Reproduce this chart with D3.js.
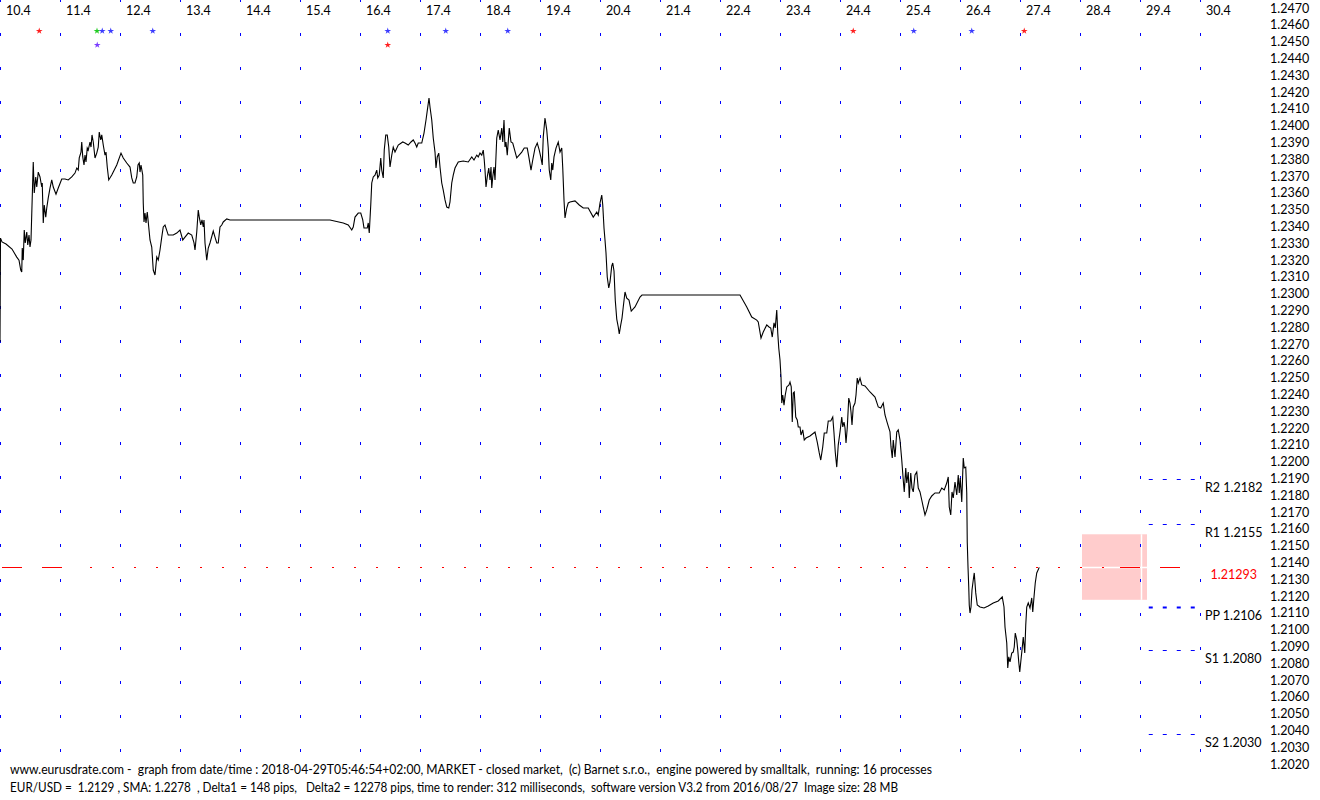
<!DOCTYPE html>
<html><head><meta charset="utf-8">
<script src="https://cdn.jsdelivr.net/npm/d3@7"></script>
<style>
body{margin:0;background:#fff;}
svg{display:block;font-family:Lato,"Liberation Sans",sans-serif;}
text{white-space:pre;}
</style>
</head><body>
<svg id="chart" width="1320" height="800"></svg>
<script>
// ---------- DATA ----------
// hours since 2018-04-10 00:00 and EUR/USD price
const hours = [0,0.2,0.8,2.4,4.8,6.7,7.6,8.3,8.7,8.9,9.3,9.7,10.1,10.7,11.1,11.6,12.0,12.4,12.9,13.3,13.7,14.3,14.7,15.3,16.0,16.7,16.9,17.3,17.7,18.3,18.7,19.3,20.0,20.7,21.3,22.4,23.3,24.7,26.0,27.3,28.7,30.0,30.7,31.3,31.7,32.4,32.7,33.1,33.6,34.0,34.4,34.9,35.3,36.0,36.4,36.8,37.3,38.0,38.7,39.3,39.7,40.3,40.7,41.3,42.0,42.4,42.9,43.5,44.7,46.7,48.4,49.3,50.7,52.0,52.7,53.3,54.0,54.7,55.2,55.7,56.0,56.4,57.1,57.3,57.6,58.0,58.4,58.9,59.3,60.0,60.7,61.3,62.0,62.7,63.3,64.0,64.7,65.3,66.0,67.3,69.3,70.7,72.0,73.1,74.0,75.3,76.7,77.6,78.0,78.7,79.3,79.7,80.3,80.8,81.3,81.6,82.0,82.7,83.3,84.0,85.3,86.0,86.7,87.3,88.0,88.7,89.3,90.7,92.0,132.0,137.3,139.3,140.7,141.3,142.0,143.3,144.3,145.1,145.6,146.9,147.3,147.7,148.3,148.7,149.3,150.0,150.7,151.1,151.7,152.3,152.7,153.3,153.7,154.3,154.9,155.5,156.0,156.7,157.3,158.0,159.3,161.1,162.0,163.3,164.4,165.3,166.0,166.7,167.3,168.7,169.6,170.4,171.1,171.6,172.0,172.7,173.3,174.0,174.4,174.9,175.5,176.0,176.7,177.3,178.0,178.7,179.5,180.0,180.7,181.3,182.0,183.3,185.3,187.3,188.7,189.6,190.7,191.3,192.0,192.7,193.3,193.7,194.0,194.4,194.9,195.5,196.0,196.4,196.7,197.1,197.6,198.0,198.7,199.3,200.0,200.7,201.1,201.6,202.0,202.4,202.9,203.7,204.4,205.1,206.7,208.7,209.7,210.9,211.6,212.4,213.1,214.0,214.9,215.7,216.3,216.9,217.3,218.0,218.7,219.3,219.7,220.3,220.7,221.1,221.6,222.4,223.3,224.0,224.7,225.1,225.6,226.0,226.7,227.3,228.0,230.0,231.7,233.3,235.3,237.3,238.7,239.3,240.0,240.7,241.1,241.6,242.0,242.4,242.9,243.5,244.0,244.7,245.1,245.6,246.1,246.7,247.3,247.7,248.3,248.8,249.3,250.0,250.7,251.6,252.5,254.0,256.0,256.8,296.0,298.7,300.7,302.7,303.3,304.4,305.3,306.7,307.6,308.3,308.9,309.6,310.1,310.7,311.1,311.5,312.0,312.4,312.7,313.1,313.6,314.1,314.7,315.6,316.0,316.5,316.9,317.3,317.7,318.3,318.9,319.3,320.0,320.4,321.1,321.7,322.4,324.0,326.0,326.9,327.7,328.3,329.1,329.7,330.7,331.3,332.3,333.1,333.6,334.1,334.7,335.3,336.0,336.7,337.1,337.6,338.0,338.4,338.9,339.5,340.0,340.4,340.8,341.3,342.0,342.4,342.9,343.3,344.0,344.7,346.0,348.0,350.0,351.3,352.3,353.3,354.0,354.7,355.3,356.0,356.4,356.9,357.3,358.0,358.7,359.3,360.0,360.7,361.3,361.7,362.3,362.7,363.3,363.7,364.3,364.8,365.3,366.0,366.7,367.3,368.0,368.7,369.3,370.0,370.7,371.7,372.7,374.0,375.7,376.7,377.7,378.7,379.3,379.7,380.3,380.8,381.3,382.0,382.7,383.3,383.7,384.1,384.7,385.3,385.7,386.3,386.7,386.9,387.2,387.5,387.7,388.0,388.4,388.8,389.3,389.7,390.3,390.9,392.0,393.6,395.3,397.3,399.3,400.9,401.6,402.0,402.7,403.1,403.5,404.0,404.7,405.3,405.7,406.1,406.7,407.1,407.5,407.9,408.3,408.8,409.3,409.9,410.3,410.7,411.3,412.0,412.7,413.1,413.6,414.1,414.7,415.7];
const prices = [1.22634,1.23253,1.23230,1.23218,1.23188,1.23140,1.23122,1.23063,1.23051,1.23194,1.23122,1.23301,1.23224,1.23289,1.23212,1.23271,1.23200,1.23242,1.23498,1.23706,1.23521,1.23617,1.23557,1.23646,1.23617,1.23557,1.23581,1.23343,1.23450,1.23378,1.23432,1.23492,1.23551,1.23599,1.23557,1.23515,1.23551,1.23605,1.23605,1.23599,1.23617,1.23640,1.23670,1.23658,1.23730,1.23765,1.23825,1.23736,1.23688,1.23747,1.23706,1.23789,1.23777,1.23825,1.23795,1.23867,1.23825,1.23730,1.23759,1.23795,1.23884,1.23837,1.23867,1.23807,1.23747,1.23765,1.23676,1.23599,1.23628,1.23688,1.23759,1.23730,1.23700,1.23676,1.23611,1.23581,1.23581,1.23617,1.23688,1.23700,1.23646,1.23688,1.23628,1.23462,1.23349,1.23402,1.23343,1.23408,1.23349,1.23242,1.23200,1.23063,1.23033,1.23140,1.23122,1.23182,1.23259,1.23319,1.23331,1.23271,1.23271,1.23283,1.23301,1.23242,1.23259,1.23283,1.23271,1.23224,1.23182,1.23289,1.23420,1.23378,1.23331,1.23361,1.23319,1.23361,1.23224,1.23122,1.23194,1.23224,1.23295,1.23259,1.23224,1.23224,1.23319,1.23331,1.23349,1.23367,1.23361,1.23361,1.23343,1.23331,1.23301,1.23319,1.23378,1.23402,1.23402,1.23361,1.23313,1.23313,1.23343,1.23283,1.23450,1.23581,1.23617,1.23628,1.23658,1.23611,1.23628,1.23730,1.23658,1.23611,1.23777,1.23867,1.23867,1.23795,1.23676,1.23747,1.23795,1.23765,1.23807,1.23825,1.23819,1.23807,1.23825,1.23837,1.23819,1.23795,1.23819,1.23819,1.23878,1.23956,1.24033,1.24087,1.24033,1.23956,1.23849,1.23765,1.23670,1.23736,1.23759,1.23676,1.23581,1.23539,1.23480,1.23438,1.23432,1.23468,1.23581,1.23628,1.23670,1.23706,1.23712,1.23706,1.23736,1.23718,1.23747,1.23736,1.23759,1.23747,1.23777,1.23718,1.23658,1.23557,1.23617,1.23670,1.23599,1.23676,1.23551,1.23617,1.23676,1.23599,1.23849,1.23896,1.23837,1.23908,1.23825,1.23956,1.23795,1.23825,1.23747,1.23908,1.23825,1.23819,1.23730,1.23765,1.23789,1.23789,1.23730,1.23658,1.23718,1.23789,1.23819,1.23777,1.23736,1.23688,1.23855,1.23968,1.23896,1.23789,1.23658,1.23599,1.23700,1.23658,1.23736,1.23789,1.23825,1.23765,1.23789,1.23670,1.23480,1.23373,1.23432,1.23462,1.23468,1.23474,1.23450,1.23432,1.23432,1.23378,1.23408,1.23390,1.23462,1.23509,1.23450,1.23313,1.23242,1.23164,1.23021,1.22956,1.22992,1.23087,1.23105,1.23057,1.22884,1.22771,1.22724,1.22682,1.22736,1.22777,1.22843,1.22932,1.22896,1.22884,1.22819,1.22843,1.22902,1.22914,1.22914,1.22843,1.22783,1.22765,1.22754,1.22658,1.22694,1.22736,1.22724,1.22718,1.22664,1.22748,1.22718,1.22825,1.22688,1.22599,1.22527,1.22426,1.22271,1.22319,1.22259,1.22319,1.22367,1.22379,1.22396,1.22367,1.22158,1.22331,1.22337,1.22188,1.22170,1.22129,1.22129,1.22081,1.22111,1.22051,1.22063,1.22075,1.22099,1.22039,1.21974,1.21932,1.22010,1.22093,1.22093,1.22164,1.22164,1.22188,1.22093,1.21980,1.21890,1.22021,1.22099,1.22188,1.22129,1.22158,1.22123,1.22033,1.22123,1.22301,1.22271,1.22218,1.22140,1.22248,1.22271,1.22319,1.22420,1.22390,1.22420,1.22379,1.22373,1.22337,1.22307,1.22248,1.22242,1.22271,1.22200,1.22164,1.22134,1.22099,1.22010,1.21944,1.22051,1.21950,1.22099,1.22111,1.22051,1.21932,1.21813,1.21742,1.21885,1.21795,1.21861,1.21706,1.21855,1.21765,1.21742,1.21843,1.21861,1.21765,1.21742,1.21694,1.21652,1.21605,1.21635,1.21694,1.21718,1.21736,1.21736,1.21765,1.21754,1.21795,1.21831,1.21652,1.21605,1.21742,1.21706,1.21801,1.21724,1.21843,1.21736,1.21825,1.21682,1.21944,1.21885,1.21890,1.21736,1.21444,1.21295,1.21176,1.21069,1.21021,1.21057,1.21158,1.21218,1.21260,1.21141,1.21069,1.21057,1.21051,1.21063,1.21081,1.21093,1.21117,1.21057,1.20938,1.20843,1.20694,1.20760,1.20730,1.20783,1.20789,1.20819,1.20902,1.20861,1.20801,1.20730,1.20670,1.20730,1.20801,1.20879,1.20783,1.20950,1.21057,1.21081,1.21051,1.21111,1.21027,1.21117,1.21200,1.21260,1.21293];

const dayLabels = ["10.4","11.4","12.4","13.4","14.4","15.4","16.4","17.4","18.4","19.4","20.4","21.4","22.4","23.4","24.4","25.4","26.4","27.4","28.4","29.4","30.4"];
const priceTicks = d3.range(12020, 12471, 10).map(v => v / 10000);

const pivotNames  = ["R2","R1","PP","S1","S2"];
const pivotValues = [1.2182, 1.2155, 1.2106, 1.2080, 1.2030];

const currentPrice = 1.21293;
const rangeHigh = 1.2149, rangeLow = 1.2110;   // pink expected range box
const rangeStartHour = 432.8, rangeEndHour = 458.8, nowHour = 456.4;

const eventHours = [15.7, 38.8, 40.9, 44.3, 61.1, 155.1, 178.3, 203.1, 341.3, 365.5, 388.7, 409.7, 38.9, 155.1];
const eventRow   = [1,1,1,1,1,1,1,1,1,1,1,1,2,2];
const eventColor = ["#ff2020","#22cc22","#3c3cff","#3c3cff","#3c3cff","#3c3cff","#3c3cff","#3c3cff","#ff2020","#3c3cff","#3c3cff","#ff2020","#7a3cff","#ff2020"];

const footer1 = "www.eurusdrate.com -  graph from date/time : 2018-04-29T05:46:54+02:00, MARKET - closed market,  (c) Barnet s.r.o.,  engine powered by smalltalk,  running: 16 processes";
const footer2 = "EUR/USD =  1.2129 , SMA: 1.2278  , Delta1 = 148 pips,   Delta2 = 12278 pips, time to render: 312 milliseconds,  software version V3.2 from 2016/08/27  Image size: 28 MB";

// ---------- SCALES ----------
const t0 = Date.UTC(2018,3,10);
const toDate = h => new Date(t0 + h*3600e3);
const x = d3.scaleUtc().domain([new Date(t0), new Date(Date.UTC(2018,3,30))]).range([0, 1200]);
const y = d3.scaleLinear().domain([1.2020, 1.2470]).range([751, -5]);
const gridRows = d3.scaleLinear().domain([0, 22]).range([0, 750]);

const svg = d3.select("#chart");
svg.append("rect").attr("width",1320).attr("height",800).attr("fill","#fff");

const dayTicks = d3.utcDay.range(new Date(t0), new Date(Date.UTC(2018,3,31)));

// pink expected range
const bx0 = x(toDate(rangeStartHour)), bx1 = x(toDate(rangeEndHour));
svg.append("rect").attr("x", bx0).attr("y", y(rangeHigh))
  .attr("width", bx1 - bx0).attr("height", y(rangeLow) - y(rangeHigh)).attr("fill", "#ffcccc");
svg.append("line").attr("x1", bx0).attr("x2", bx1).attr("y1", y(currentPrice)).attr("y2", y(currentPrice))
  .attr("stroke", "#fff").attr("stroke-width", 1.5);
svg.append("line").attr("x1", x(toDate(nowHour))+0.5).attr("x2", x(toDate(nowHour))+0.5)
  .attr("y1", y(rangeHigh)).attr("y2", y(rangeLow)).attr("stroke", "#fff").attr("stroke-width", 1.5);

// dot grid
const gDots = svg.append("g").attr("fill", "#0000ff");
dayTicks.forEach(d => {
  d3.range(23).forEach(r => {
    gDots.append("rect").attr("x", Math.round(x(d))).attr("y", Math.round(gridRows(r)) - 1)
      .attr("width", 1).attr("height", 3);
  });
});

// current price line (red)
const cy = Math.round(y(currentPrice)) + 0.5;
svg.append("line").attr("x1", 2).attr("x2", 62).attr("y1", cy).attr("y2", cy)
  .attr("stroke", "#ff0000").attr("stroke-width", 1).attr("stroke-dasharray", "20,20");
svg.append("line").attr("x1", 90).attr("x2", x(toDate(442))).attr("y1", cy).attr("y2", cy)
  .attr("stroke", "#ff0000").attr("stroke-width", 1).attr("stroke-dasharray", "2,20");
svg.append("line").attr("x1", x(toDate(448))).attr("x2", x(toDate(472))).attr("y1", cy).attr("y2", cy)
  .attr("stroke", "#ff0000").attr("stroke-width", 1).attr("stroke-dasharray", "20,20");

// pivot lines
pivotValues.forEach((v, i) => {
  const py = Math.round(y(v)) + 0.5;
  svg.append("line").attr("x1", x(toDate(459.5))).attr("x2", x(toDate(479)))
    .attr("y1", py).attr("y2", py).attr("stroke", "#0000ff")
    .attr("stroke-width", pivotNames[i] === "PP" ? 2 : 1)
    .attr("stroke-dasharray", "4,10");
  svg.append("text").attr("x", 1205).attr("y", y(v) + 13).attr("font-size", 12.5)
    .attr("fill", "#000").text(pivotNames[i] + " " + v.toFixed(4));
});
svg.append("text").attr("x", 1257).attr("y", y(currentPrice) + 12).attr("font-size", 12.5)
  .attr("text-anchor", "end").attr("fill", "#ff0000").text(currentPrice.toFixed(5));

// price line
const pts = hours.map((h, i) => [x(toDate(h)), y(prices[i])]);
svg.append("path").attr("d", d3.line()(pts)).attr("fill", "none")
  .attr("stroke", "#000").attr("stroke-width", 1.1).attr("stroke-linejoin", "miter");

// event stars
const star = d3.symbol().type(d3.symbolStar).size(14);
eventHours.forEach((h, i) => {
  svg.append("path").attr("d", star())
    .attr("transform", `translate(${x(toDate(h))},${eventRow[i] === 1 ? 31 : 45})`)
    .attr("fill", eventColor[i]);
});

// day labels (top)
dayTicks.forEach((d, i) => {
  svg.append("text").attr("x", x(d) + 6).attr("y", 15).attr("font-size", 12.5)
    .attr("fill", "#000").text(dayLabels[i]);
});

// price axis labels (right)
priceTicks.forEach(p => {
  svg.append("text").attr("x", 1270).attr("y", y(p) + 17.5).attr("font-size", 12.5)
    .attr("fill", "#000").text(p.toFixed(4));
});

// footer
svg.append("text").attr("x", 10).attr("y", 773.5).attr("font-size", 12.5).attr("fill", "#000")
  .attr("textLength", 922).attr("lengthAdjust", "spacingAndGlyphs").text(footer1);
svg.append("text").attr("x", 10).attr("y", 792).attr("font-size", 12.5).attr("fill", "#000")
  .attr("textLength", 888).attr("lengthAdjust", "spacingAndGlyphs").text(footer2);
</script>
</body></html>
